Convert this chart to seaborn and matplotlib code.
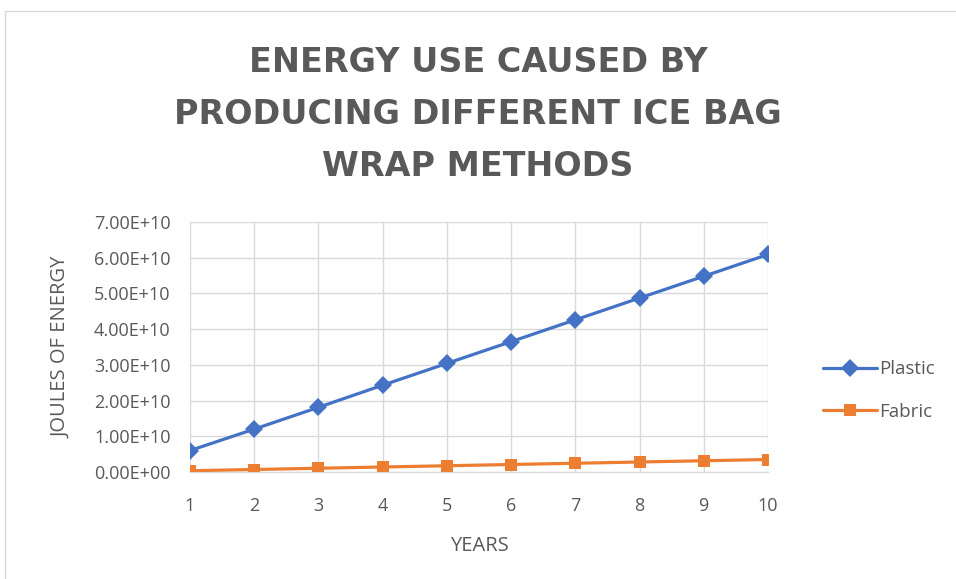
import pandas as pd
import matplotlib.pyplot as plt
import seaborn as sns
from matplotlib.patches import Rectangle

# data
years = [1, 2, 3, 4, 5, 6, 7, 8, 9, 10]
plastic = [6.0e9, 1.20e10, 1.81e10, 2.43e10, 3.04e10, 3.65e10, 4.26e10, 4.87e10, 5.48e10, 6.09e10]
fabric = [3.5e8, 7.0e8, 1.05e9, 1.4e9, 1.75e9, 2.1e9, 2.45e9, 2.8e9, 3.15e9, 3.5e9]
y_ticks = [0, 1e10, 2e10, 3e10, 4e10, 5e10, 6e10, 7e10]
y_labels = ['0.00E+00', '1.00E+10', '2.00E+10', '3.00E+10',
            '4.00E+10', '5.00E+10', '6.00E+10', '7.00E+10']

df = pd.DataFrame({
    'year': years * 2,
    'joules': plastic + fabric,
    'series': ['Plastic'] * len(years) + ['Fabric'] * len(years),
})

sns.set_style('white')
plt.rcParams['font.family'] = ['Open Sans', 'DejaVu Sans']
text_gray = '#595959'
grid_gray = '#d9d9d9'

fig = plt.figure(figsize=(9.56, 5.79), dpi=100)
ax = fig.add_axes([0.1987, 0.1848, 0.6046, 0.4318])

sns.lineplot(data=df, x='year', y='joules', hue='series', style='series',
             palette={'Plastic': '#4472C4', 'Fabric': '#ED7D31'},
             markers={'Plastic': 'D', 'Fabric': 's'},
             dashes=False, linewidth=2.3, markersize=9, markeredgewidth=0,
             ax=ax)

ax.set_xlim(1, 10)
ax.set_ylim(0, 7e10)
ax.set_xticks(years)
ax.set_xticklabels([str(y) for y in years])
ax.set_yticks(y_ticks)
ax.set_yticklabels(y_labels)
ax.grid(True, color=grid_gray, linewidth=1)
ax.set_axisbelow(True)
for side in ['top', 'right', 'left']:
    ax.spines[side].set_visible(False)
ax.spines['bottom'].set_color(grid_gray)
ax.tick_params(axis='both', length=0, colors=text_gray, labelsize=13)
ax.tick_params(axis='x', pad=18)
ax.tick_params(axis='y', pad=14)

ax.set_xlabel('YEARS', color=text_gray, fontsize=14.5, labelpad=15)
ax.set_ylabel('JOULES OF ENERGY', color=text_gray, fontsize=14.5, labelpad=16)

ax.legend(title=None, frameon=False, loc='center left',
          bbox_to_anchor=(1.066, 0.326), fontsize=13.5, labelcolor=text_gray,
          handlelength=2.9, handletextpad=0.1, labelspacing=1.3)

title_lines = ['ENERGY USE CAUSED BY',
               'PRODUCING DIFFERENT ICE BAG',
               'WRAP METHODS']
for i, line in enumerate(title_lines):
    fig.text(0.5, 1 - (63 + i * 51.5) / 579, line, ha='center', va='center',
             fontsize=24, fontweight='bold', color=text_gray,
             family=['DejaVu Sans'])

# chart area border (cropped on the right and bottom)
fig.patches.append(Rectangle((5 / 956, -0.1), 1.1, 1 - 11 / 579 + 0.1,
                             transform=fig.transFigure, fill=False,
                             edgecolor='#d9d9d9', linewidth=1))

fig.savefig('out.png', dpi=100)
